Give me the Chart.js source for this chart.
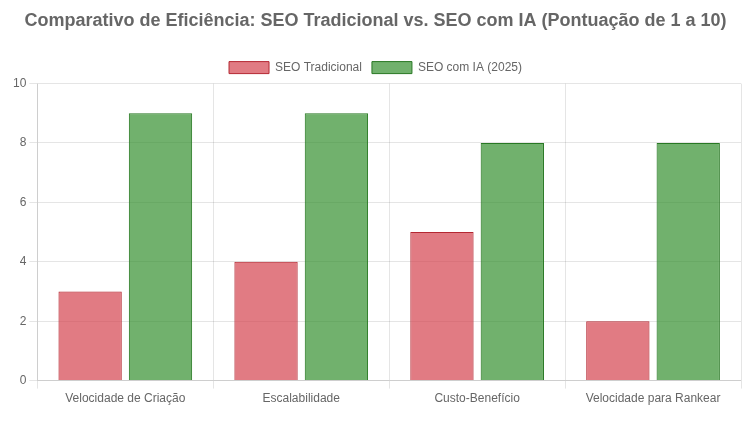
<!DOCTYPE html>
<html><head><meta charset="utf-8">
<script src="https://cdn.jsdelivr.net/npm/chart.js@4"></script>
<style>html,body{margin:0;padding:0;background:#fff}#w{width:751px;height:429px}</style>
</head><body><div id="w"><canvas id="c"></canvas></div>
<script>
const categories = ["Velocidade de Criação","Escalabilidade","Custo-Benefício","Velocidade para Rankear"];
const seoTradicional = [3,4,5,2];
const seoIA = [9,9,8,8];
Chart.defaults.font.family = "Arial, 'Liberation Sans', sans-serif";
new Chart(document.getElementById('c'), {
  type: 'bar',
  data: { labels: categories, datasets: [
    { label: 'SEO Tradicional', data: seoTradicional, backgroundColor: 'rgba(211,60,72,0.68)', borderColor: 'rgba(180,40,50,1)', borderWidth: 1 },
    { label: 'SEO com IA (2025)', data: seoIA, backgroundColor: 'rgba(46,140,40,0.68)', borderColor: 'rgba(40,120,35,1)', borderWidth: 1 }
  ]},
  options: {
    responsive: true, maintainAspectRatio: false, animation: false,
    layout: { padding: { left: 10, right: 10, bottom: 20 } },
    plugins: {
      title: { display: true, text: 'Comparativo de Eficiência: SEO Tradicional vs. SEO com IA (Pontuação de 1 a 10)', font: { size: 18, weight: 'bold' }, color: '#666', padding: { top: 10, bottom: 20 } },
      legend: { labels: { color: '#666', font: { size: 12 } } }
    },
    scales: {
      y: { min: 0, max: 10, ticks: { stepSize: 2, color: '#666' } },
      x: { ticks: { color: '#666' } }
    }
  }
});
</script></body></html>
